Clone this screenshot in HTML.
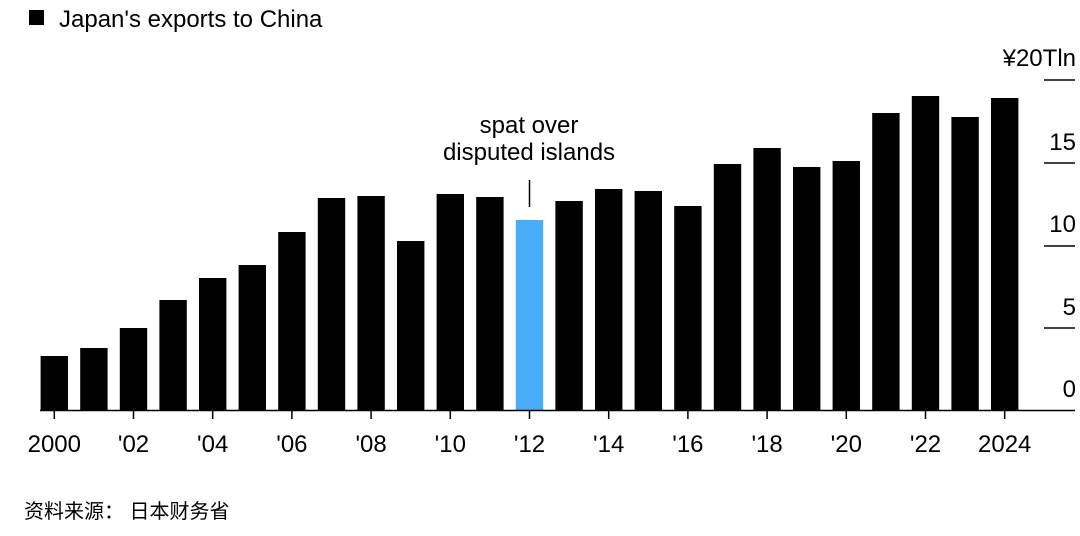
<!DOCTYPE html>
<html><head><meta charset="utf-8"><style>
body{margin:0;background:#fff;width:1080px;height:536px;overflow:hidden}
svg{display:block}
text{font-family:"Liberation Sans","Noto Sans CJK SC",sans-serif;fill:#000}
</style></head><body>
<svg width="1080" height="536" xmlns="http://www.w3.org/2000/svg">
<rect x="29" y="10" width="15" height="15" fill="#000"/>
<text x="59" y="27" font-size="24">Japan's exports to China</text>
<g stroke="#000" stroke-width="1.5">
<line x1="1044" y1="80" x2="1075" y2="80"/>
<line x1="1044" y1="163" x2="1075" y2="163"/>
<line x1="1044" y1="246" x2="1075" y2="246"/>
<line x1="1044" y1="328" x2="1075" y2="328"/>
</g>
<g font-size="24" text-anchor="end">
<text x="1076" y="66">¥20Tln</text>
<text x="1076" y="150">15</text>
<text x="1076" y="232">10</text>
<text x="1076" y="315">5</text>
<text x="1076" y="397">0</text>
</g>
<g id="bars"></g>
<line x1="40" y1="410.5" x2="1075" y2="410.5" stroke="#000" stroke-width="1.5"/>
<line x1="529.5" y1="180" x2="529.5" y2="207" stroke="#000" stroke-width="1.5"/>
<text x="529" y="133" font-size="24" text-anchor="middle">spat over</text>
<text x="529" y="160" font-size="24" text-anchor="middle">disputed islands</text>
<g id="ticks" stroke="#000" stroke-width="1.5"></g>
<g id="lbl" font-size="24" text-anchor="middle"></g>
<text x="24" y="518" font-size="20">资料来源：  日本财务省</text>
</svg>
<script>
var tops=[356,348,328,300,278,265,232,198,196,241,194,197,220,201,189,191,206,164,148,167,161,113,96,117,98];
var ns="http://www.w3.org/2000/svg",b=document.getElementById('bars'),t=document.getElementById('ticks'),l=document.getElementById('lbl');
var labs={0:"2000",2:"'02",4:"'04",6:"'06",8:"'08",10:"'10",12:"'12",14:"'14",16:"'16",18:"'18",20:"'20",22:"'22",24:"2024"};
for(var i=0;i<25;i++){var cx=54.3+i*39.6;var r=document.createElementNS(ns,'rect');
r.setAttribute('x',cx-13.7);r.setAttribute('y',tops[i]);r.setAttribute('width',27.4);r.setAttribute('height',410-tops[i]);
r.setAttribute('fill',i==12?'#4aaef7':'#000');b.appendChild(r);
if(i%2==0){var ln=document.createElementNS(ns,'line');ln.setAttribute('x1',cx);ln.setAttribute('x2',cx);ln.setAttribute('y1',410);ln.setAttribute('y2',419);t.appendChild(ln);
var tx=document.createElementNS(ns,'text');tx.setAttribute('x',cx);tx.setAttribute('y',452);tx.textContent=labs[i];l.appendChild(tx);}}
</script>
</body></html>
